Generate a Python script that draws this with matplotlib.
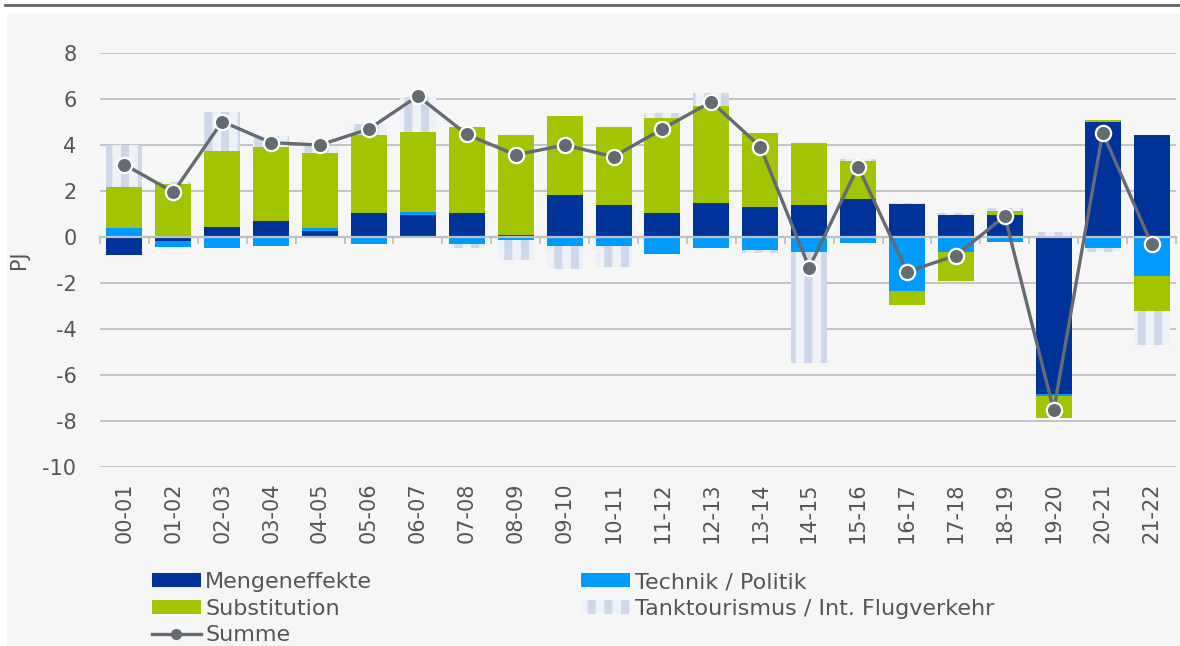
import numpy as np
import matplotlib
matplotlib.use("Agg")
import matplotlib.pyplot as plt
from matplotlib.patches import Rectangle, Patch
from matplotlib.lines import Line2D

plt.rcParams["font.family"] = ["DejaVu Sans"]
plt.rcParams["hatch.linewidth"] = 5.8
plt.rcParams["axes.unicode_minus"] = False

periods = ["00-01", "01-02", "02-03", "03-04", "04-05", "05-06", "06-07", "07-08",
           "08-09", "09-10", "10-11", "11-12", "12-13", "13-14", "14-15", "15-16",
           "16-17", "17-18", "18-19", "19-20", "20-21", "21-22"]

# decomposition of the yearly change (PJ)
mengen = [-0.80, -0.18, 0.45, 0.71, 0.27, 1.06, 0.97, 1.06, 0.10, 1.83, 1.39,
          1.06, 1.49, 1.32, 1.39, 1.67, 1.42, 0.97, 0.95, -6.83, 5.01, 4.43]
technik = [0.37, -0.27, -0.47, -0.38, 0.10, -0.32, 0.10, -0.30, -0.15, -0.38, -0.38,
           -0.72, -0.47, -0.57, -0.64, -0.28, -2.35, -0.64, -0.20, -0.08, -0.47, -1.68]
substitution = [1.82, 2.30, 3.29, 3.19, 3.28, 3.36, 3.51, 3.71, 4.35, 3.45, 3.38,
                4.13, 4.22, 3.19, 2.70, 1.63, -0.61, -1.29, 0.18, -0.96, 0.09, -1.52]
tank = [1.80, 0.10, 1.71, 0.50, 0.32, 0.50, 1.49, -0.17, -0.85, -1.02, -0.94,
        0.19, 0.54, -0.14, -4.83, 0.08, 0.07, 0.07, 0.12, 0.23, -0.17, -1.50]
summe = [3.15, 1.95, 5.02, 4.10, 4.00, 4.70, 6.13, 4.46, 3.57, 4.00, 3.49,
         4.70, 5.88, 3.93, -1.33, 3.06, -1.51, -0.81, 0.91, -7.54, 4.54, -0.30]

c_mengen = "#00339a"
c_technik = "#009bff"
c_subst = "#a3c400"
c_tank_bg = "#eef1f7"
c_tank_line = "#cfd8ea"
c_sum = "#646b73"
c_grid = "#bcc0c3"
c_text = "#555555"

fig = plt.figure(figsize=(11.8, 6.46), dpi=100, facecolor="white")
# light panel behind the chart and dark rule on top
fig.patches.append(Rectangle((7 / 1180, 0), 1 - 7 / 1180, 1 - 13 / 646,
                             transform=fig.transFigure, facecolor="#f6f6f6",
                             edgecolor="none", zorder=-10))
fig.add_artist(Line2D([5 / 1180, 1], [1 - 5 / 646, 1 - 5 / 646],
                      transform=fig.transFigure, color="#5f656b", linewidth=2))

ax = fig.add_axes([100 / 1180, 1 - 467 / 646, 1076 / 1180, 414 / 646])
ax.set_facecolor("none")

x = np.arange(len(periods))
w = 0.735
pos = np.zeros(len(x))
neg = np.zeros(len(x))
for vals, color in [(mengen, c_mengen), (technik, c_technik), (substitution, c_subst)]:
    v = np.array(vals)
    bottom = np.where(v >= 0, pos, neg)
    ax.bar(x, v, w, bottom=bottom, color=color, linewidth=0, zorder=3)
    pos += np.where(v >= 0, v, 0)
    neg += np.where(v < 0, v, 0)

v = np.array(tank)
bottom = np.where(v >= 0, pos, neg)
ax.bar(x, v, w, bottom=bottom, facecolor=c_tank_bg, edgecolor=c_tank_line,
       hatch="|", linewidth=0, zorder=3)

ax.plot(x, summe, color=c_sum, linewidth=2.4, marker="o", markersize=11,
        markerfacecolor=c_sum, markeredgecolor="white", markeredgewidth=1.6,
        zorder=5, clip_on=False)

ax.set_xlim(-0.5, len(x) - 0.5)
ax.set_ylim(-10, 8)
ax.set_yticks(np.arange(-10, 9, 2))
ax.yaxis.grid(True, color=c_grid, linewidth=1.3, zorder=0)
ax.tick_params(axis="y", length=0, pad=17, labelsize=15, labelcolor=c_text)
ax.set_ylabel("PJ", fontsize=15, color=c_text)
ax.yaxis.set_label_coords(-0.066, 0.5)

for s in ["top", "right", "left"]:
    ax.spines[s].set_visible(False)
ax.spines["bottom"].set_position(("data", 0))
ax.spines["bottom"].set_color(c_grid)
ax.spines["bottom"].set_linewidth(1.6)
ax.spines["bottom"].set_zorder(4)
ax.set_xticks(np.arange(-0.5, len(x), 1))
ax.tick_params(axis="x", length=5, width=1.3, color=c_grid, labelbottom=False)

sec = ax.secondary_xaxis(0)
sec.set_xticks(x)
sec.set_xticklabels(periods, rotation=90)
sec.tick_params(length=0, pad=11, labelsize=15, labelcolor=c_text)
sec.spines["bottom"].set_visible(False)

handles = [
    Patch(facecolor=c_mengen, label="Mengeneffekte"),
    Patch(facecolor=c_subst, label="Substitution"),
    Line2D([], [], color=c_sum, linewidth=2.4, marker="o", markersize=7,
           markerfacecolor=c_sum, markeredgecolor=c_sum, label="Summe"),
    Patch(facecolor=c_technik, label="Technik / Politik"),
    Patch(facecolor=c_tank_bg, edgecolor=c_tank_line, hatch="|", linewidth=0,
          label="Tanktourismus / Int. Flugverkehr"),
]
leg = fig.legend(handles=handles, ncol=2, loc="upper left",
                 bbox_to_anchor=(152 / 1180, 1 - 572 / 646), frameon=False,
                 fontsize=16, labelcolor=c_text, handlelength=2.2,
                 handleheight=0.55, handletextpad=0.2, labelspacing=0.3,
                 columnspacing=9.4, borderpad=0, borderaxespad=0)

fig.savefig("out.png", dpi=100, facecolor="white")
